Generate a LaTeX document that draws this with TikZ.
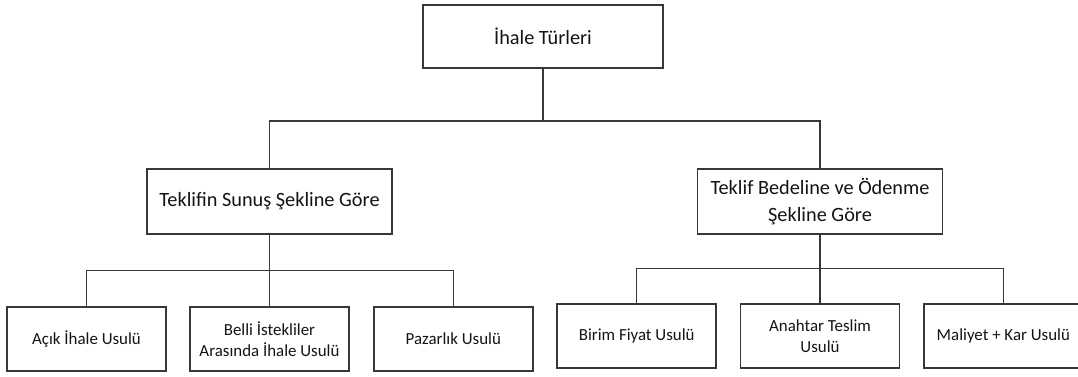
\documentclass[tikz,border=0pt]{standalone}
\usepackage{fontspec}
\setmainfont{Carlito}
\definecolor{edge}{HTML}{383838}
\definecolor{ink}{HTML}{141414}
\begin{document}
\begin{tikzpicture}[x=1pt,y=-1pt,
  box/.style={draw=edge,line width=1.5pt,fill=white,text=ink,align=center,inner sep=0pt},
  topbox/.style={box,minimum width=240pt,minimum height=63pt,font=\fontsize{20.3}{26.5}\selectfont},
  midbox/.style={box,minimum width=245pt,minimum height=65pt,font=\fontsize{20.3}{26.5}\selectfont},
  leafbox/.style={box,minimum width=159pt,minimum height=64pt,font=\fontsize{16.9}{21}\selectfont},
  link/.style={draw=edge,line width=1.5pt}]
\useasboundingbox (0,0) rectangle (1078,377);

% root and the two grouping criteria
\node[topbox] (root) at (543,36.5) {İhale Türleri};
\node[midbox] (sunus) at (269.5,201.5) {Teklifin Sunuş Şekline Göre};
\node[midbox] (bedel) at (820,201.5) {Teklif Bedeline ve Ödenme\\Şekline Göre};

% procurement methods
\node[leafbox] (acik) at (86.5,339) {Açık İhale Usulü};
\node[leafbox] (belli) at (269.5,339) {Belli İstekliler\\Arasında İhale Usulü};
\node[leafbox] (pazar) at (453.3,339) {Pazarlık Usulü};
\node[leafbox] (birim) at (636.7,336) {Birim Fiyat Usulü};
\node[leafbox] (anahtar) at (820,336) {Anahtar Teslim\\Usulü};
\node[leafbox] (maliyet) at (1003.3,336) {Maliyet + Kar Usulü};

% bus junctions
\coordinate (jroot) at (543,121);
\coordinate (jsunus) at (269.5,270.7);
\coordinate (jbedel) at (820,268.3);

% tree connectors
\draw[link] (root.south) -- (jroot);
\draw[link] (sunus.north) |- (jroot);
\draw[link] (bedel.north) |- (jroot);

\draw[link] (sunus.south) -- (jsunus);
\draw[link] (acik.north) |- (jsunus);
\draw[link] (belli.north) -- (jsunus);
\draw[link] (pazar.north) |- (jsunus);

\draw[link] (bedel.south) -- (jbedel);
\draw[link] (birim.north) |- (jbedel);
\draw[link] (anahtar.north) -- (jbedel);
\draw[link] (maliyet.north) |- (jbedel);
\end{tikzpicture}
\end{document}
